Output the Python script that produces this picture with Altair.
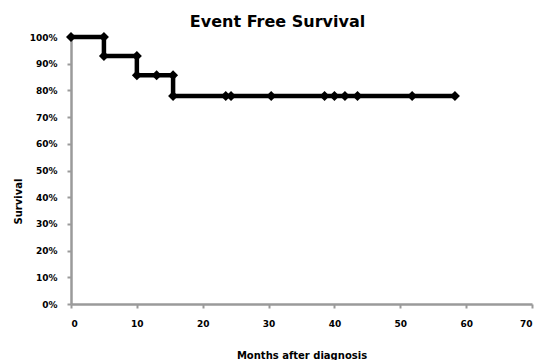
import altair as alt
import pandas as pd

# Kaplan-Meier style step curve (Excel-like series: every point has a marker)
months = [0, 5, 5, 10, 10, 13, 15.5, 15.5, 23.5, 24.3, 30.4, 38.5, 40.0, 41.6, 43.5, 51.8, 58.3]
survival = [1.0, 1.0, 0.929, 0.929, 0.857, 0.857, 0.857, 0.779, 0.779, 0.779, 0.779,
            0.779, 0.779, 0.779, 0.779, 0.779, 0.779]
x_ticks = [0, 10, 20, 30, 40, 50, 60, 70]
y_ticks = [0, 0.1, 0.2, 0.3, 0.4, 0.5, 0.6, 0.7, 0.8, 0.9, 1.0]

df = pd.DataFrame({"order": list(range(len(months))), "months": months, "survival": survival})

FONT = "DejaVu Sans"
GRAY = "#9a9a9a"

x = alt.X("months:Q",
          scale=alt.Scale(domain=[0, 70], nice=False, zero=True),
          axis=alt.Axis(values=x_ticks, title="Months after diagnosis",
                        grid=False, titleY=51, titleBaseline="middle", labelPadding=11,
                        labelOverlap=False))
y = alt.Y("survival:Q",
          scale=alt.Scale(domain=[0, 1], nice=False),
          axis=alt.Axis(values=y_ticks, format=".0%", title="Survival",
                        grid=False, titleX=-53, titleY=164, titleAngle=-90,
                        titleBaseline="middle", labelPadding=10, labelOverlap=False))

line = alt.Chart(df).mark_line(color="black", strokeWidth=4.5, interpolate="linear").encode(
    x=x, y=y, order="order:Q")
pts = alt.Chart(df).mark_point(shape="diamond", filled=True, color="black", size=100, opacity=1).encode(
    x=x, y=y)

chart = (line + pts).properties(
    width=461, height=267,
    autosize=alt.AutoSizeParams(type="none"),
    padding={"left": 63, "top": 29, "right": 4, "bottom": 56},
    title=alt.TitleParams("Event Free Survival", font=FONT, fontSize=16, fontWeight="bold",
                          anchor="middle", dx=-24, baseline="bottom", offset=-18, color="black"),
).configure_view(stroke=None).configure_axis(
    domainColor=GRAY, domainWidth=2.5, tickColor=GRAY, tickWidth=2, tickSize=4,
    labelFont=FONT, labelFontWeight="bold", labelFontSize=9, labelColor="black",
    titleFont=FONT, titleFontWeight="bold", titleFontSize=10, titleColor="black",
)

chart.save("out.html", embed_options={"renderer": "svg", "actions": False})
